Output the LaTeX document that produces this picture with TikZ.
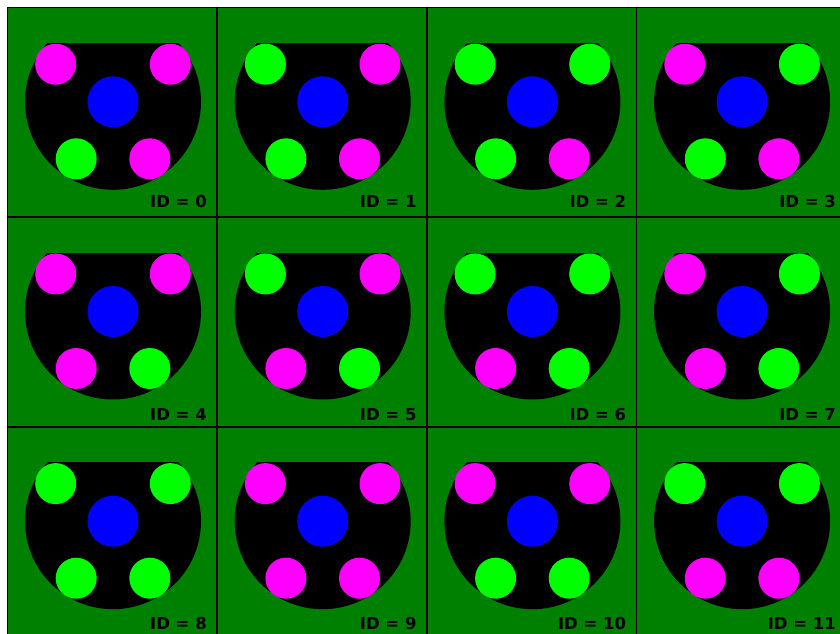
\documentclass[tikz,border=0pt]{standalone}
\usepackage{fontspec}
\newfontfamily\idfont{DejaVu Sans}
\definecolor{tileGreen}{HTML}{008000}
\definecolor{mg}{HTML}{FF00FF}
\definecolor{lm}{HTML}{00FF00}
\definecolor{hubBlue}{HTML}{0000FF}

\begin{document}
\begin{tikzpicture}[x=1pt,y=-1pt, tile/.style={draw=black,fill=tileGreen,line width=1.5pt}, dot/.style={circle,inner sep=0pt,minimum size=41pt}, hub/.style={circle,fill=hubBlue,inner sep=0pt,minimum size=51pt}, idlabel/.style={anchor=base east,inner sep=0pt,font=\idfont\bfseries\fontsize{16.5}{18}\selectfont}]
\useasboundingbox (0,0) rectangle (840,634);
\clip (0,0) rectangle (840,634);
% one tile per marker id: top-left / top-right / bottom-left / bottom-right
\foreach \i/\tlc/\trc/\blc/\brc in {0/mg/mg/lm/mg,1/lm/mg/lm/mg,2/lm/lm/lm/mg,3/mg/lm/lm/mg,
  4/mg/mg/mg/lm,5/lm/mg/mg/lm,6/lm/lm/mg/lm,7/mg/lm/mg/lm,
  8/lm/lm/lm/lm,9/mg/mg/mg/mg,10/mg/mg/lm/lm,11/lm/lm/mg/mg}{
  \pgfmathtruncatemacro\col{mod(\i,4)}
  \pgfmathtruncatemacro\row{div(\i,4)}
  \pgfmathsetmacro\lby{\row==0 ? 200.3 : 202.8}
  \begin{scope}[shift={(7.5+209.7*\col,7.5+209.7*\row)}]
    \draw[tile] (0,0) rectangle (209.7,209.7);
    \begin{scope}
      \clip (0,35.8) rectangle (209.7,209.7);
      \fill[black] (105.5,94.3) circle (88);
    \end{scope}
    \node[hub] (hub\i) at (105.5,94.3) {};
    \node[dot,fill=\tlc] (tl\i) at (48.2,56.7) {};
    \node[dot,fill=\trc] (tr\i) at (162.8,56.7) {};
    \node[dot,fill=\blc] (bl\i) at (68.7,151.3) {};
    \node[dot,fill=\brc] (br\i) at (142.3,151.3) {};
    \node[idlabel] (id\i) at (199.5,\lby) {ID = \i};
  \end{scope}
}
\end{tikzpicture}
\end{document}
